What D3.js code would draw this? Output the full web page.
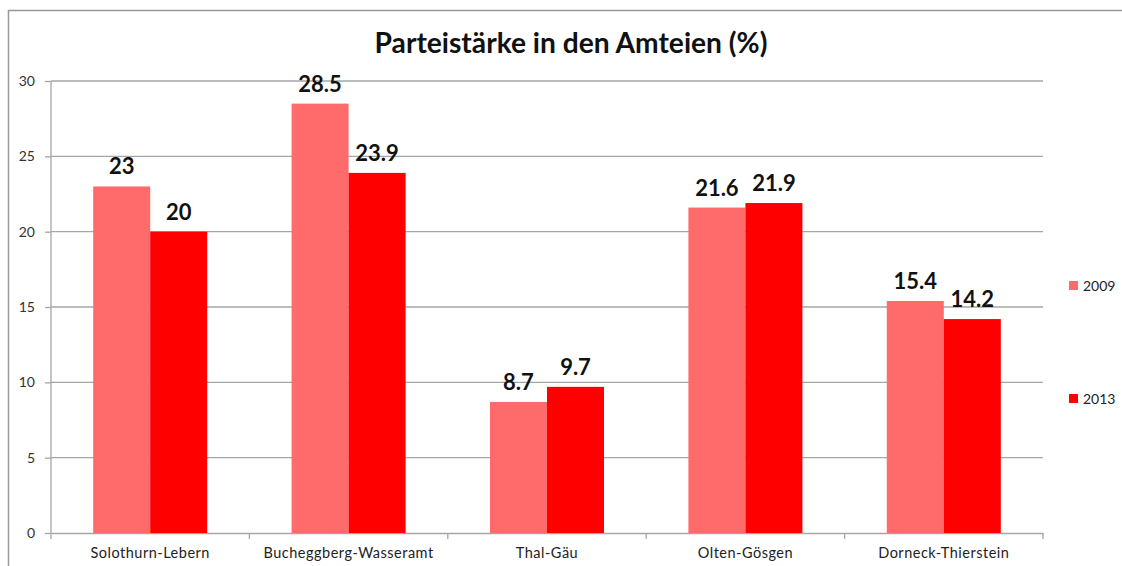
<!DOCTYPE html>
<html><head><meta charset="utf-8">
<script src="https://cdn.jsdelivr.net/npm/d3@7"></script>
<style>body{margin:0;background:#fff;} svg{display:block;font-family:Lato, "Open Sans", sans-serif;}</style>
</head><body>
<svg id="c" width="1122" height="566"></svg>
<script>
const categories = ["Solothurn-Lebern","Bucheggberg-Wasseramt","Thal-Gäu","Olten-Gösgen","Dorneck-Thierstein"];
const seriesNames = ["2009","2013"];
const values2009 = [23, 28.5, 8.7, 21.6, 15.4];
const values2013 = [20, 23.9, 9.7, 21.9, 14.2];
const yTicks = [0,5,10,15,20,25,30];
const colors = ["#FF6B6B","#FF0000"];
const title = "Parteistärke in den Amteien (%)";

const svg = d3.select("#c");
const m = {left:51, right:1043, top:81, bottom:533};

// outer border
svg.append("path").attr("d","M8.5,566 L8.5,10.5 L1122,10.5").attr("fill","none").attr("stroke","#999").attr("stroke-width",1.5);

const x = d3.scaleBand().domain(categories).range([m.left,m.right]).paddingInner(0).paddingOuter(0);
const x1 = d3.scaleBand().domain(seriesNames).range([0,x.bandwidth()]).paddingInner(0).paddingOuter(0.74);
const y = d3.scaleLinear().domain([0,30]).range([m.bottom,m.top]);

// grid
svg.append("g").selectAll("line").data(yTicks.filter(d=>d>0)).join("line")
  .attr("x1",m.left).attr("x2",m.right).attr("y1",d=>y(d)).attr("y2",d=>y(d))
  .attr("stroke","#a6a6a6").attr("stroke-width",1.3);

// y axis
const ya = svg.append("g").attr("transform",`translate(${m.left},0)`)
  .call(d3.axisLeft(y).tickValues(yTicks).tickSize(6).tickPadding(10));
ya.select(".domain").attr("stroke","#a6a6a6").attr("stroke-width",1.3).attr("d",`M0,${m.top}V${m.bottom}`);
ya.selectAll(".tick line").attr("stroke","#a6a6a6").attr("stroke-width",1.3);
ya.selectAll("text").attr("font-size",14).attr("fill","#333").attr("font-family","Lato");

// x axis
const xa = svg.append("g").attr("transform",`translate(0,${m.bottom})`)
  .call(d3.axisBottom(x).tickSize(0).tickPadding(15));
xa.select(".domain").attr("stroke","#a6a6a6").attr("stroke-width",1.3);
xa.selectAll("text").attr("font-size",14.5).attr("letter-spacing",0.5).attr("fill","#222").attr("font-family","Lato");
xa.append("g").selectAll("line").data(d3.range(categories.length+1)).join("line")
  .attr("x1",i=>m.left+i*x.step()).attr("x2",i=>m.left+i*x.step()).attr("y1",0).attr("y2",6)
  .attr("stroke","#a6a6a6").attr("stroke-width",1.3);

// bars
const series = [values2009, values2013];
const g = svg.append("g");
series.forEach((vals,si)=>{
  g.append("g").selectAll("rect").data(vals).join("rect")
    .attr("x",(d,i)=>x(categories[i])+x1(seriesNames[si]))
    .attr("width",x1.bandwidth())
    .attr("y",d=>y(d)).attr("height",d=>y(0)-y(d))
    .attr("fill",colors[si]);
  g.append("g").selectAll("text").data(vals).join("text")
    .attr("x",(d,i)=>x(categories[i])+x1(seriesNames[si])+x1.bandwidth()/2)
    .attr("y",d=>y(d)-12)
    .attr("text-anchor","middle").attr("font-size",22).attr("font-weight","bold").attr("fill","#111")
    .text(d=>d);
});

// title
const t = svg.append("text").attr("x",571).attr("y",53).attr("text-anchor","middle")
  .attr("font-size",26).attr("font-weight","bold").attr("fill","#111").text(title);
const w = t.node().getComputedTextLength();
t.attr("font-size",26*393/w);

// legend
const lg = svg.append("g");
const legendY = [286, 399];
seriesNames.forEach((s,i)=>{
  lg.append("rect").attr("x",1069).attr("y",legendY[i]-5).attr("width",9).attr("height",9).attr("fill",colors[i]);
  lg.append("text").attr("x",1083).attr("y",legendY[i]+5).attr("font-size",14).attr("fill","#222").text(s);
});
</script>
</body></html>
